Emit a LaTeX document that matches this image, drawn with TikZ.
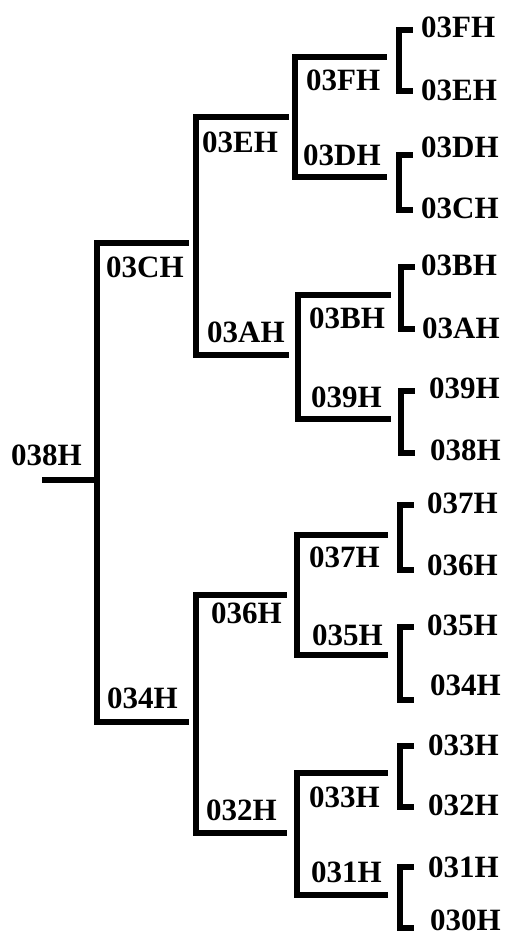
\documentclass[tikz,border=0pt]{standalone}
\usepackage{fontspec}
\setmainfont{Liberation Serif}
\begin{document}
\begin{tikzpicture}[x=1pt,y=-1pt,
  lbl/.style={anchor=west,inner sep=0pt,font=\fontsize{31}{31}\selectfont\bfseries},
  br/.style={line width=5.5pt,line join=miter,line cap=rect}]
\useasboundingbox (0,0) rectangle (505,938);
% labels
\node[lbl] (r) at (11,455) {038H};
\node[lbl] (a1) at (106,267) {03CH};
\node[lbl] (b1) at (107,698) {034H};
\node[lbl] (a2) at (202,142) {03EH};
\node[lbl] (b2) at (207,332) {03AH};
\node[lbl] (c2) at (211,613) {036H};
\node[lbl] (d2) at (206,810) {032H};
\node[lbl] (m1) at (306,80) {03FH};
\node[lbl] (m2) at (303,155) {03DH};
\node[lbl] (m3) at (309,318) {03BH};
\node[lbl] (m4) at (311,397) {039H};
\node[lbl] (m5) at (309,557) {037H};
\node[lbl] (m6) at (312,635) {035H};
\node[lbl] (m7) at (309,797) {033H};
\node[lbl] (m8) at (311,872) {031H};
\node[lbl] (l1) at (421,27) {03FH};
\node[lbl] (l2) at (421,90) {03EH};
\node[lbl] (l3) at (421,147) {03DH};
\node[lbl] (l4) at (421,208) {03CH};
\node[lbl] (l5) at (421,265) {03BH};
\node[lbl] (l6) at (422,328) {03AH};
\node[lbl] (l7) at (429,388) {039H};
\node[lbl] (l8) at (430,450) {038H};
\node[lbl] (l9) at (427,503) {037H};
\node[lbl] (l10) at (427,565) {036H};
\node[lbl] (l11) at (427,625) {035H};
\node[lbl] (l12) at (430,685) {034H};
\node[lbl] (l13) at (428,745) {033H};
\node[lbl] (l14) at (428,805) {032H};
\node[lbl] (l15) at (428,867) {031H};
\node[lbl] (l16) at (430,920) {030H};
% root stub
\coordinate (s0) at (42,480);
\coordinate (s1) at (97,480);
\draw[br,line cap=butt] (s0) -- (s1);
% level 1
\coordinate (p1t) at (186,243); \coordinate (p1a) at (97,243);
\coordinate (p1b) at (97,722);  \coordinate (p1e) at (186,722);
\draw[br] (p1t) -- (p1a) -- (p1b) -- (p1e);
% level 2
\coordinate (q1t) at (286,117); \coordinate (q1a) at (196,117);
\coordinate (q1b) at (196,355); \coordinate (q1e) at (286,355);
\draw[br] (q1t) -- (q1a) -- (q1b) -- (q1e);
\coordinate (q2t) at (284,595); \coordinate (q2a) at (196,595);
\coordinate (q2b) at (196,833); \coordinate (q2e) at (284,833);
\draw[br] (q2t) -- (q2a) -- (q2b) -- (q2e);
% level 3
\coordinate (u1t) at (384,57); \coordinate (u1a) at (295,57);
\coordinate (u1b) at (295,177); \coordinate (u1e) at (384,177);
\draw[br] (u1t) -- (u1a) -- (u1b) -- (u1e);
\coordinate (u2t) at (388,295); \coordinate (u2a) at (298,295);
\coordinate (u2b) at (298,419); \coordinate (u2e) at (388,419);
\draw[br] (u2t) -- (u2a) -- (u2b) -- (u2e);
\coordinate (u3t) at (385,535); \coordinate (u3a) at (297,535);
\coordinate (u3b) at (297,655); \coordinate (u3e) at (385,655);
\draw[br] (u3t) -- (u3a) -- (u3b) -- (u3e);
\coordinate (u4t) at (385,773); \coordinate (u4a) at (297,773);
\coordinate (u4b) at (297,895); \coordinate (u4e) at (385,895);
\draw[br] (u4t) -- (u4a) -- (u4b) -- (u4e);
% level 4 brackets
\foreach \n/\x/\t/\b in {1/399/30/91, 2/399/155/210, 3/401/267/329, 4/401/391/453,
                         5/400/505/570, 6/400/627/700, 7/400/746/807, 8/400/867/928}{
  \coordinate (v\n t) at (\x+11,\t);
  \coordinate (v\n a) at (\x,\t);
  \coordinate (v\n b) at (\x,\b);
  \coordinate (v\n e) at (\x+11,\b);
  \draw[br] (v\n t) -- (v\n a) -- (v\n b) -- (v\n e);
}
\end{tikzpicture}
\end{document}
